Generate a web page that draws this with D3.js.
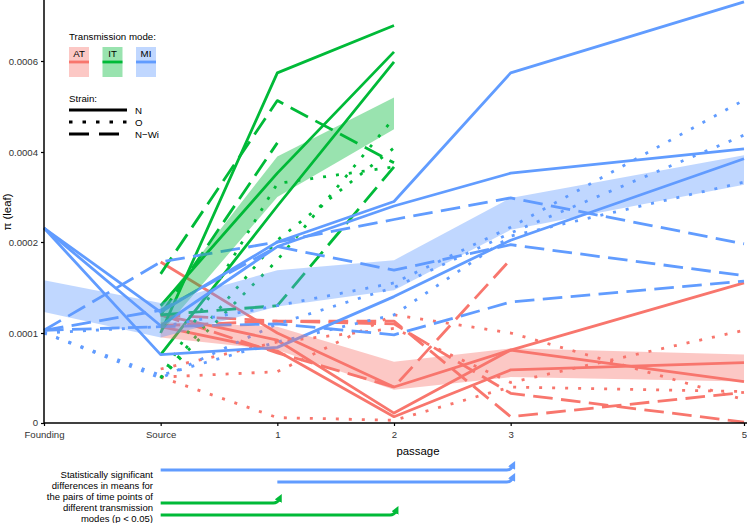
<!DOCTYPE html>
<html>
<head>
<meta charset="utf-8">
<script src="https://cdn.jsdelivr.net/npm/d3@7"></script>
<style>
  body { margin: 0; background: #fff; }
  text { font-family: "Liberation Sans", Arial, sans-serif; }
</style>
</head>
<body>
<svg id="drawing_region"></svg>
<script>
// passages on the x axis (Founding = -1, Source = 0)
const passages = ['Founding', 'Source', '1', '2', '3', '5'];
const passage_x = [-1, 0, 1, 2, 3, 5];

const y_ticks = [0, 0.0001, 0.0002, 0.0004, 0.0006];
const y_tick_labels = ['0', '0.0001', '0.0002', '0.0004', '0.0006'];

const modes = ['AT', 'IT', 'MI'];
const strains = ['N', 'O', 'N-Wi'];
const strain_labels = ['N', 'O', 'N\u2212Wi'];

// pi (leaf) per lineage, values at Founding, Source, 1, 2, 3, 5 (null = none)
const AT_N = [
  [null, 0.000178, 0.000100, 0.000040, 0.000081, 0.000155],
  [null, 0.000120, 0.000092, 0.000011, 0.000081, 0.000046],
  [null, 0.000107, 0.000080, 0.000007, 0.000059, 0.000067]
];
const AT_O = [
  [null, 0.000051, 0.000057, 0.000120, 0.000100, 0.000026],
  [null, 0.000051, 0.000006, 0.000003, 0.000040, 0.000035],
  [null, 0.000060, 0.000090, 0.000105, 0.000045, 0.000103]
];
const AT_NWi = [
  [null, 0.000108, 0.000113, 0.000113, 0.000007, 0.000034],
  [null, 0.000120, 0.000078, 0.000040, 0.000181, null],
  [null, 0.000120, 0.000113, 0.000110, 0.000033, 0.000001]
];

const IT_N = [
  [null, 0.000100, 0.000574, 0.000678, null, null],
  [null, 0.000130, 0.000353, 0.000620, null, null],
  [null, 0.000076, 0.000280, 0.000598, null, null]
];
const IT_O = [
  [null, 0.000050, 0.000330, 0.000367, null, null],
  [null, 0.000050, 0.000180, 0.000475, null, null],
  [null, 0.000050, 0.000204, 0.000409, null, null]
];
const IT_NWi = [
  [null, 0.000165, 0.000513, 0.000376, null, null],
  [null, 0.000120, 0.000420, null, null, null],
  [null, 0.000120, 0.000130, 0.000367, null, null]
];

const MI_N = [
  [0.000231, 0.000123, 0.000200, 0.000290, 0.000574, 0.000730],
  [0.000231, 0.000108, 0.000195, 0.000280, 0.000353, 0.000407],
  [0.000231, 0.000076, 0.000084, 0.000140, 0.000204, 0.000385]
];
const MI_O = [
  [0.000100, 0.000107, 0.000130, 0.000155, 0.000233, 0.000514],
  [0.000100, 0.000050, 0.000110, 0.000150, 0.000220, 0.000437],
  [0.000100, 0.000053, 0.000090, 0.000120, 0.000213, 0.000333]
];
const MI_NWi = [
  [0.000103, 0.000125, 0.000195, 0.000169, 0.000197, 0.000163],
  [0.000103, 0.000178, 0.000200, 0.000250, 0.000298, 0.000198],
  [0.000103, 0.000107, 0.000110, 0.000098, 0.000134, 0.000157]
];

// mean band per mode
const AT_lo = [null, 0.000095, 0.000081, 0.000037, 0.000051, 0.000046];
const AT_hi = [null, 0.000112, 0.000107, 0.000068, 0.000083, 0.000076];
const IT_lo = [null, 0.000100, 0.000300, 0.000450, null, null];
const IT_hi = [null, 0.000130, 0.000390, 0.000520, null, null];
const MI_lo = [0.000123, 0.000095, 0.000129, 0.000147, 0.000227, 0.000327];
const MI_hi = [0.000158, 0.000133, 0.000169, 0.000180, 0.000298, 0.000393];

// significant differences (index into passages)
const sig_mode = ['MI', 'MI', 'IT', 'IT'];
const sig_from = [1, 2, 1, 1];
const sig_to = [4, 4, 2, 3];

const sig_text = ['Statistically significant', 'differences in means for',
  'the pairs of time points of', 'different transmission', 'modes (p < 0.05)'];

const colors = { AT: '#F8766D', IT: '#00BA38', MI: '#619CFF' };
const dashes = { 'N': null, 'O': '3,10', 'N-Wi': '19.6,8.4' };

const lines_by_mode = {
  AT: [AT_N, AT_O, AT_NWi],
  IT: [IT_N, IT_O, IT_NWi],
  MI: [MI_N, MI_O, MI_NWi]
};
const bands = {
  AT: [AT_lo, AT_hi],
  IT: [IT_lo, IT_hi],
  MI: [MI_lo, MI_hi]
};

const config = {
  width: 747,
  height: 523,
  left: 44,
  right: 744,
  bottom: 423,
  y_range: [423, 333, 242, 152, 61]
};

const svg = d3.select('#drawing_region')
  .attr('width', config.width)
  .attr('height', config.height);

const x_scale = d3.scaleLinear()
  .domain([d3.min(passage_x), d3.max(passage_x)])
  .range([config.left, config.right]);

// axis is stretched piecewise between its breaks
const y_scale = d3.scaleLinear()
  .domain(y_ticks)
  .range(config.y_range);

const to_points = vals => vals.map((v, i) => ({ p: passage_x[i], v: v }));

const line = d3.line()
  .defined(d => d.v != null)
  .x(d => x_scale(d.p))
  .y(d => y_scale(d.v));

const area = d3.area()
  .defined(d => d.lo != null)
  .x(d => x_scale(d.p))
  .y0(d => y_scale(d.lo))
  .y1(d => y_scale(d.hi));

// lineage lines
const series = [];
modes.forEach(m => {
  lines_by_mode[m].forEach((group, si) => {
    group.forEach(vals => series.push({ mode: m, strain: strains[si], vals: vals }));
  });
});

const chart = svg.append('g');

chart.selectAll('path.lineage')
  .data(series)
  .join('path')
  .attr('class', 'lineage')
  .attr('d', d => line(to_points(d.vals)))
  .attr('fill', 'none')
  .attr('stroke', d => colors[d.mode])
  .attr('stroke-width', 2.8)
  .attr('stroke-dasharray', d => dashes[d.strain])
  .attr('stroke-linejoin', 'round');

// mean ribbons drawn over the lines
chart.selectAll('path.band')
  .data(modes)
  .join('path')
  .attr('class', 'band')
  .attr('d', m => area(bands[m][0].map((lo, i) => ({ p: passage_x[i], lo: lo, hi: bands[m][1][i] }))))
  .attr('fill', m => colors[m])
  .attr('fill-opacity', 0.4);

// axes
const x_axis = d3.axisBottom(x_scale)
  .tickValues(passage_x)
  .tickFormat((d, i) => passages[i])
  .tickSize(3).tickSizeOuter(0).tickPadding(5);

const y_axis = d3.axisLeft(y_scale)
  .tickValues(y_ticks)
  .tickFormat((d, i) => y_tick_labels[i])
  .tickSize(3).tickSizeOuter(0).tickPadding(3);

const xg = svg.append('g')
  .attr('transform', `translate(0, ${config.bottom})`)
  .call(x_axis);
const yg = svg.append('g')
  .attr('transform', `translate(${config.left}, 0)`)
  .call(y_axis);

[xg, yg].forEach(g => {
  g.select('.domain').remove();
  g.selectAll('.tick line').attr('stroke', '#000').attr('stroke-width', 1.2);
  g.selectAll('.tick text').attr('fill', '#333').style('font-size', '9.6px');
});
// keep the "0" label clear of "Founding"
yg.selectAll('.tick text').filter((d, i) => i == 0).attr('dy', '0.22em');

svg.append('line')
  .attr('x1', config.left).attr('x2', config.left)
  .attr('y1', 0).attr('y2', config.bottom + 0.7)
  .attr('stroke', '#000').attr('stroke-width', 1.5);
svg.append('line')
  .attr('x1', config.left).attr('x2', config.right + 3)
  .attr('y1', config.bottom).attr('y2', config.bottom)
  .attr('stroke', '#000').attr('stroke-width', 1.5);

svg.append('text')
  .attr('x', 418).attr('y', 455)
  .attr('text-anchor', 'middle')
  .style('font-size', '11.4px')
  .text('passage');

svg.append('text')
  .attr('transform', 'translate(11, 212) rotate(-90)')
  .attr('text-anchor', 'middle')
  .style('font-size', '11.4px')
  .text('\u03c0 (leaf)');

// legend: transmission mode
const legend = svg.append('g');
legend.append('text')
  .attr('x', 69).attr('y', 40)
  .style('font-size', '9.7px')
  .text('Transmission mode:');

const key_x = [69, 102.5, 136];
const keys = legend.selectAll('g.key')
  .data(modes)
  .join('g')
  .attr('class', 'key')
  .attr('transform', (d, i) => `translate(${key_x[i]}, 47)`);
keys.append('rect')
  .attr('width', 20).attr('height', 30)
  .attr('fill', d => colors[d]).attr('fill-opacity', 0.4);
keys.append('line')
  .attr('x1', 0).attr('x2', 20).attr('y1', 15).attr('y2', 15)
  .attr('stroke', d => colors[d]).attr('stroke-width', 2.8);
keys.append('text')
  .attr('x', 10).attr('y', 10)
  .attr('text-anchor', 'middle')
  .style('font-size', '9.7px')
  .text(d => d);

// legend: strain
legend.append('text')
  .attr('x', 69).attr('y', 102)
  .style('font-size', '9.7px')
  .text('Strain:');
const skeys = legend.selectAll('g.skey')
  .data(strains)
  .join('g')
  .attr('class', 'skey')
  .attr('transform', (d, i) => `translate(69, ${110 + i * 12})`);
skeys.append('line')
  .attr('x1', 0).attr('x2', 58)
  .attr('stroke', '#000').attr('stroke-width', 3.2)
  .attr('stroke-dasharray', d => d == 'O' ? '3.5,10' : (d == 'N-Wi' ? '20,10' : null));
skeys.append('text')
  .attr('x', 66).attr('y', 3.5)
  .style('font-size', '9.7px')
  .text((d, i) => strain_labels[i]);

// significance arrows
const defs = svg.append('defs');
modes.forEach(m => {
  defs.append('marker')
    .attr('id', 'head_' + m)
    .attr('viewBox', '0 0 10 10')
    .attr('refX', 3).attr('refY', 5)
    .attr('markerWidth', 2.6).attr('markerHeight', 2.6)
    .attr('orient', 'auto')
    .append('path')
    .attr('d', 'M0,0 L10,5 L0,10 z')
    .attr('fill', colors[m]);
});

const sig_y = [470, 482, 503, 515];
sig_mode.forEach((m, i) => {
  const x0 = x_scale(passage_x[sig_from[i]]);
  const x1 = x_scale(passage_x[sig_to[i]]);
  const y = sig_y[i];
  svg.append('path')
    .attr('d', `M${x0},${y} H${x1 - 4} Q${x1},${y} ${x1 + 2},${y - 4}`)
    .attr('fill', 'none')
    .attr('stroke', colors[m])
    .attr('stroke-width', 3)
    .attr('marker-end', `url(#head_${m})`);
});

svg.append('text')
  .attr('text-anchor', 'end')
  .style('font-size', '9.5px')
  .selectAll('tspan')
  .data(sig_text)
  .join('tspan')
  .attr('x', 153)
  .attr('y', (d, i) => 477.5 + i * 11.2)
  .text(d => d);
</script>
</body>
</html>
